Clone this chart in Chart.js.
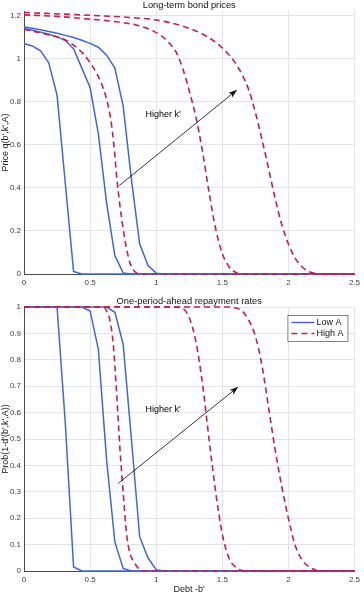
<!DOCTYPE html>
<html>
<head>
<meta charset="utf-8">
<script src="https://cdn.jsdelivr.net/npm/chart.js@4.4.1/dist/chart.umd.min.js"></script>
<style>
  html, body { margin: 0; padding: 0; background: #fff; }
  #wrap { position: relative; width: 364px; height: 592px; }
  .panel { position: absolute; left: 0; width: 364px; }
</style>
</head>
<body>
<div id="wrap">
  <div class="panel" style="top:0;height:290px"><canvas id="price-chart"></canvas></div>
  <div class="panel" style="top:290px;height:302px"><canvas id="repay-chart"></canvas></div>
</div>
<script>
// tick values
const debtTicks = [0, 0.5, 1, 1.5, 2, 2.5];
const priceTicks = [0, 0.2, 0.4, 0.6, 0.8, 1, 1.2];
const repayTicks = [0, 0.1, 0.2, 0.3, 0.4, 0.5, 0.6, 0.7, 0.8, 0.9, 1];

// Long-term bond prices, Low A (three k' levels)
const priceLow1B = [0, 0.0625, 0.125, 0.1875, 0.25, 0.3125, 0.375, 0.4375, 2.5];
const priceLow1Q = [1.069, 1.058, 1.035, 0.98, 0.83, 0.42, 0.012, 0, 0];
const priceLow2B = [0, 0.0625, 0.125, 0.1875, 0.25, 0.3125, 0.375, 0.4375, 0.5, 0.5625, 0.625, 0.6875, 0.75, 0.8125, 2.5];
const priceLow2Q = [1.139, 1.131, 1.122, 1.112, 1.1, 1.083, 1.045, 0.955, 0.865, 0.65, 0.33, 0.085, 0.005, 0, 0];
const priceLow3B = [0, 0.0625, 0.125, 0.1875, 0.25, 0.3125, 0.375, 0.4375, 0.5, 0.5625, 0.625, 0.6875, 0.75, 0.8125, 0.875, 0.9375, 1, 1.0625, 2.5];
const priceLow3Q = [1.146, 1.14, 1.133, 1.125, 1.117, 1.107, 1.097, 1.084, 1.07, 1.052, 1.015, 0.955, 0.78, 0.44, 0.14, 0.04, 0.004, 0, 0];

// Long-term bond prices, High A
const priceHigh1B = [0, 0.1, 0.2, 0.3, 0.4, 0.45, 0.5, 0.55, 0.6, 0.65, 0.68, 0.7, 0.725, 0.75, 0.775, 0.8, 0.825, 0.85, 0.875, 2.5];
const priceHigh1Q = [1.135, 1.122, 1.107, 1.09, 1.05, 1.02, 0.98, 0.93, 0.86, 0.74, 0.6, 0.46, 0.32, 0.21, 0.12, 0.055, 0.02, 0.005, 0, 0];
const priceHigh2B = [0, 0.25, 0.5, 0.7, 0.85, 0.95, 1.05, 1.1, 1.15, 1.2, 1.25, 1.3, 1.35, 1.4, 1.45, 1.5, 1.55, 1.6, 1.65, 2.5];
const priceHigh2Q = [1.202, 1.195, 1.182, 1.17, 1.155, 1.135, 1.1, 1.07, 1.03, 0.955, 0.85, 0.73, 0.57, 0.38, 0.21, 0.095, 0.035, 0.008, 0, 0];
const priceHigh3B = [0, 0.5, 0.8, 1, 1.2, 1.35, 1.45, 1.55, 1.6, 1.65, 1.7, 1.75, 1.8, 1.85, 1.9, 1.95, 2, 2.05, 2.1, 2.15, 2.2, 2.25, 2.5];
const priceHigh3Q = [1.213, 1.2, 1.19, 1.178, 1.15, 1.113, 1.075, 1.017, 0.978, 0.925, 0.855, 0.75, 0.625, 0.49, 0.35, 0.23, 0.14, 0.075, 0.035, 0.013, 0.003, 0, 0];

// One-period-ahead repayment rates, Low A
const repayLow1B = [0, 0.25, 0.3125, 0.375, 0.4375, 2.5];
const repayLow1P = [1, 1, 0.56, 0.015, 0, 0];
const repayLow2B = [0, 0.4375, 0.5, 0.5625, 0.625, 0.6875, 0.75, 0.8125, 2.5];
const repayLow2P = [1, 1, 0.985, 0.84, 0.42, 0.11, 0.01, 0, 0];
const repayLow3B = [0, 0.625, 0.6875, 0.75, 0.8125, 0.875, 0.9375, 1, 1.0625, 2.5];
const repayLow3P = [1, 1, 0.98, 0.86, 0.5, 0.13, 0.05, 0.005, 0, 0];

// One-period-ahead repayment rates, High A
const repayHigh1B = [0, 0.6, 0.625, 0.65, 0.675, 0.7, 0.725, 0.75, 0.775, 0.8, 0.825, 0.85, 0.875, 0.9, 2.5];
const repayHigh1P = [1, 1, 0.985, 0.95, 0.86, 0.68, 0.47, 0.3, 0.145, 0.07, 0.04, 0.02, 0.005, 0, 0];
const repayHigh2B = [0, 1.15, 1.2, 1.25, 1.3, 1.35, 1.4, 1.45, 1.5, 1.55, 1.6, 1.65, 1.7, 2.5];
const repayHigh2P = [1, 1, 0.995, 0.96, 0.87, 0.71, 0.5, 0.3, 0.14, 0.05, 0.015, 0.002, 0, 0];
const repayHigh3B = [0, 1.55, 1.6, 1.65, 1.7, 1.75, 1.8, 1.85, 1.9, 1.95, 2, 2.05, 2.1, 2.15, 2.2, 2.25, 2.5];
const repayHigh3P = [1, 1, 0.997, 0.985, 0.95, 0.89, 0.78, 0.62, 0.46, 0.32, 0.2, 0.1, 0.045, 0.018, 0.005, 0, 0];

// "Higher k'" arrow, in data units
const priceArrow = { from: [0.72, 0.41], to: [1.61, 0.853], label: [0.92, 0.742] };
const repayArrow = { from: [0.713, 0.332], to: [1.619, 0.697], label: [0.92, 0.61] };

const FONT = "'Liberation Sans', Arial, sans-serif";
const BLUE = '#3f68d2';
const RED = '#c81d52';

function pts(xs, ys) {
    return xs.map((x, i) => ({ x: x, y: ys[i] }));
}

function lowSet(xs, ys) {
    return {
        data: pts(xs, ys), borderColor: BLUE, borderWidth: 1.5,
        pointRadius: 0, tension: 0, clip: 3, order: 2
    };
}

function highSet(xs, ys) {
    return {
        data: pts(xs, ys), borderColor: RED, borderWidth: 1.6, borderDash: [6, 4],
        pointRadius: 0, cubicInterpolationMode: 'monotone', clip: 3, order: 1
    };
}

// title + arrow drawn in data space
const decorPlugin = {
    id: 'decor',
    afterDatasetsDraw(chart, args, opts) {
        const { ctx, scales: { x, y }, chartArea } = chart;
        ctx.save();
        ctx.fillStyle = '#111';
        ctx.font = '9.3px ' + FONT;
        ctx.textAlign = 'center';
        ctx.textBaseline = 'middle';
        ctx.fillText(opts.title, (chartArea.left + chartArea.right) / 2, opts.titleY);

        const a = opts.arrow;
        const x0 = x.getPixelForValue(a.from[0]), y0 = y.getPixelForValue(a.from[1]);
        const x1 = x.getPixelForValue(a.to[0]), y1 = y.getPixelForValue(a.to[1]);
        ctx.strokeStyle = '#000';
        ctx.lineWidth = 0.8;
        ctx.beginPath();
        ctx.moveTo(x0, y0);
        ctx.lineTo(x1, y1);
        ctx.stroke();
        const ang = Math.atan2(y1 - y0, x1 - x0);
        ctx.fillStyle = '#000';
        ctx.beginPath();
        ctx.moveTo(x1, y1);
        ctx.lineTo(x1 - 9 * Math.cos(ang - 0.35), y1 - 9 * Math.sin(ang - 0.35));
        ctx.lineTo(x1 - 6 * Math.cos(ang), y1 - 6 * Math.sin(ang));
        ctx.lineTo(x1 - 9 * Math.cos(ang + 0.35), y1 - 9 * Math.sin(ang + 0.35));
        ctx.closePath();
        ctx.fill();

        ctx.font = '9px ' + FONT;
        ctx.textAlign = 'left';
        ctx.fillText("Higher k'", x.getPixelForValue(a.label[0]), y.getPixelForValue(a.label[1]));

        if (opts.legend) {
            const bx = chartArea.right - 67, by = chartArea.top + 8, bw = 60, bh = 26;
            ctx.fillStyle = '#fff';
            ctx.fillRect(bx, by, bw, bh);
            ctx.strokeStyle = '#333';
            ctx.lineWidth = 0.6;
            ctx.strokeRect(bx + 0.5, by + 0.5, bw, bh);
            const rows = [['Low A', BLUE, [], 1.5], ['High A', RED, [6, 4], 1.6]];
            rows.forEach((r, i) => {
                const ry = by + 7.5 + i * 11;
                ctx.strokeStyle = r[1];
                ctx.lineWidth = r[3];
                ctx.setLineDash(r[2]);
                ctx.beginPath();
                ctx.moveTo(bx + 4, ry);
                ctx.lineTo(bx + 27, ry);
                ctx.stroke();
                ctx.setLineDash([]);
                ctx.fillStyle = '#111';
                ctx.font = '9px ' + FONT;
                ctx.fillText(r[0], bx + 29, ry + 0.5);
            });
        }
        ctx.restore();
    }
};

function baseOptions(yMax, yTicks, yTitle, xTitle, xHeight, padTop) {
    return {
        responsive: true,
        maintainAspectRatio: false,
        animation: false,
        layout: { padding: { top: padTop, right: 6, left: 0, bottom: 0 } },
        plugins: { legend: { display: false }, tooltip: { enabled: false } },
        scales: {
            x: {
                type: 'linear', min: 0, max: 2.5,
                afterBuildTicks: s => { s.ticks = debtTicks.map(v => ({ value: v })); },
                afterFit: s => { s.height = xHeight; },
                grid: { color: '#e4e4e4', lineWidth: 1, drawTicks: false },
                border: { color: '#4a4a4a', width: 1 },
                ticks: { padding: 4, color: '#404040', font: { family: FONT, size: 8 }, maxRotation: 0, callback: v => String(v) },
                title: { display: !!xTitle, text: xTitle || '', color: '#222', font: { family: FONT, size: 9 }, padding: { top: 0, bottom: -3 } }
            },
            y: {
                type: 'linear', min: 0, max: yMax,
                afterBuildTicks: s => { s.ticks = yTicks.map(v => ({ value: v })); },
                afterFit: s => { s.width = 24; },
                grid: { color: '#e4e4e4', lineWidth: 1, drawTicks: false },
                border: { color: '#4a4a4a', width: 1 },
                ticks: { padding: 3, color: '#404040', font: { family: FONT, size: 8 }, callback: v => String(v) },
                title: { display: true, text: yTitle, color: '#222', font: { family: FONT, size: 9 }, padding: { top: 0, bottom: 0 } }
            }
        }
    };
}

const priceOpts = baseOptions(1.22, priceTicks, "Price q(b',k',A)", null, 16, 11);
priceOpts.plugins.decor = { title: 'Long-term bond prices', titleY: 5, arrow: priceArrow, legend: false };

new Chart(document.getElementById('price-chart'), {
    type: 'line',
    data: {
        datasets: [
            highSet(priceHigh1B, priceHigh1Q),
            highSet(priceHigh2B, priceHigh2Q),
            highSet(priceHigh3B, priceHigh3Q),
            lowSet(priceLow1B, priceLow1Q),
            lowSet(priceLow2B, priceLow2Q),
            lowSet(priceLow3B, priceLow3Q)
        ]
    },
    options: priceOpts,
    plugins: [decorPlugin]
});

const repayOpts = baseOptions(1, repayTicks, "Prob(1-d'(b',k',A))", "Debt -b'", 21, 17);
repayOpts.plugins.decor = { title: 'One-period-ahead repayment rates', titleY: 11, arrow: repayArrow, legend: true };

new Chart(document.getElementById('repay-chart'), {
    type: 'line',
    data: {
        datasets: [
            highSet(repayHigh1B, repayHigh1P),
            highSet(repayHigh2B, repayHigh2P),
            highSet(repayHigh3B, repayHigh3P),
            lowSet(repayLow1B, repayLow1P),
            lowSet(repayLow2B, repayLow2P),
            lowSet(repayLow3B, repayLow3P)
        ]
    },
    options: repayOpts,
    plugins: [decorPlugin]
});
</script>
</body>
</html>
